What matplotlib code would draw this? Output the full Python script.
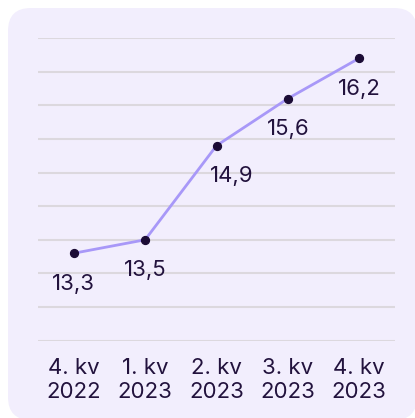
import numpy as np
import matplotlib.pyplot as plt
from matplotlib.patches import FancyBboxPatch

# data
quarters = ['4. kv\n2022', '1. kv\n2023', '2. kv\n2023', '3. kv\n2023', '4. kv\n2023']
values = [13.3, 13.5, 14.9, 15.6, 16.2]
labels = ['13,3', '13,5', '14,9', '15,6', '16,2']
label_dx = [0, 0, 15, 0, 0]  # pixel nudge so label clears the line

plt.rcParams['font.family'] = ['Inter', 'DejaVu Sans']
text_col = '#22123d'

fig = plt.figure(figsize=(4.15, 4.18), dpi=100)
fig.patch.set_facecolor('white')

# rounded panel behind the chart
W, H = 415, 418
panel = FancyBboxPatch((8 / W, 1 - 420 / H), 409 / W, 412 / H,
                       boxstyle='round,pad=0,rounding_size=0.055',
                       transform=fig.transFigure, facecolor='#f2eefd',
                       edgecolor='none', zorder=-10)
fig.add_artist(panel)

ax = fig.add_axes([38 / W, 1 - 340.7 / H, (395 - 38) / W, (340.7 - 38) / H])
ax.set_facecolor('none')

x = np.arange(len(values))
ax.plot(x, values, color='#a898f8', lw=2, zorder=3)
ax.scatter(x, values, s=32, color='#1b0b35', zorder=4)

for xi, v, lab, dx in zip(x, values, labels, label_dx):
    ax.annotate(lab, (xi, v), xytext=(dx * 0.72, -22), textcoords='offset points',
                ha='center', va='center', fontsize=16, color=text_col)

ax.set_xlim(-0.5, 4.5)
ax.set_ylim(12, 16.5)
ax.set_yticks(np.arange(12, 16.51, 0.5))
ax.yaxis.grid(True, color='#dcd8de', lw=1.5)
ax.set_axisbelow(True)
ax.tick_params(axis='y', left=False, labelleft=False)
ax.tick_params(axis='x', length=0, pad=12.5, labelsize=16, labelcolor=text_col)
ax.set_xticks(x)
ax.set_xticklabels(quarters, linespacing=1.27)
for s in ax.spines.values():
    s.set_visible(False)

plt.savefig('out.png', dpi=100)
plt.close()
